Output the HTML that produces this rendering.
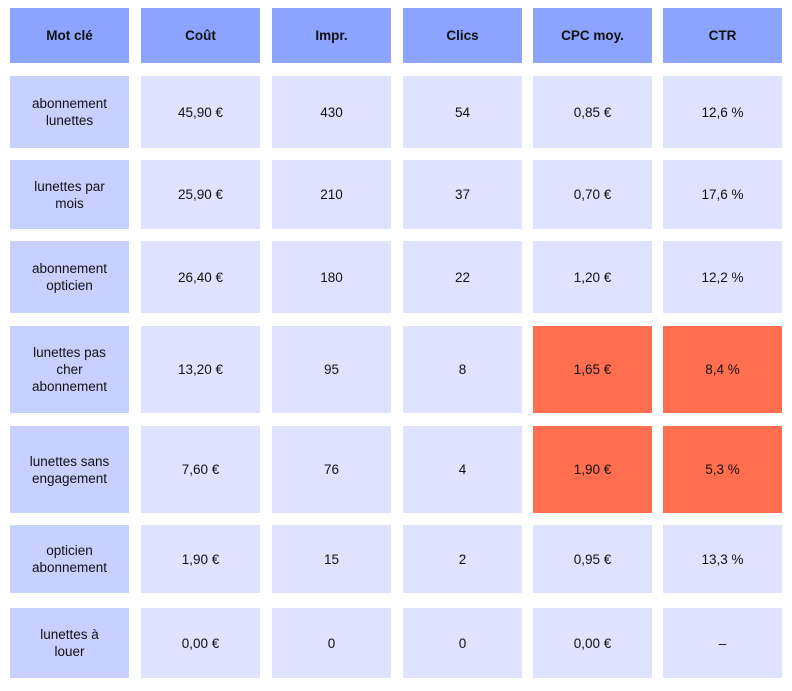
<!DOCTYPE html>
<html><head><meta charset="utf-8"><style>
body{margin:0;background:#fff;width:792px;height:691px;position:relative;font-family:"Liberation Sans",sans-serif;color:#111}
.c{position:absolute;display:flex;align-items:center;justify-content:center;text-align:center;font-size:13.5px;line-height:17px;box-sizing:border-box}
.h{background:#8ca4ff;font-weight:bold;font-size:13.5px}
.k{background:#c7d0ff}
.v{background:#dfe3ff}
.r{background:#ff6e4e}
</style></head><body>
<script>
const headers=["Mot clé","Coût","Impr.","Clics","CPC moy.","CTR"];
const keywords=["abonnement<br>lunettes","lunettes par<br>mois","abonnement<br>opticien","lunettes pas<br>cher<br>abonnement","lunettes sans<br>engagement","opticien<br>abonnement","lunettes à<br>louer"];
const costs=["45,90 €","25,90 €","26,40 €","13,20 €","7,60 €","1,90 €","0,00 €"];
const impressions=["430","210","180","95","76","15","0"];
const clicks=["54","37","22","8","4","2","0"];
const cpc=["0,85 €","0,70 €","1,20 €","1,65 €","1,90 €","0,95 €","0,00 €"];
const ctr=["12,6 %","17,6 %","12,2 %","8,4 %","5,3 %","13,3 %","–"];
const highlight=[false,false,false,true,true,false,false];
const colX=[10,141,272,403,533,663];
const colW=119;
const rowTop=[76,160,241,326,426,525,608];
const rowBot=[148,229,313,413,513,593,678];
function cell(x,y,w,h,cls,html,name){
  const d=document.createElement('div');
  d.className='c '+cls;
  d.style.left=x+'px';d.style.top=y+'px';d.style.width=w+'px';d.style.height=h+'px';
  d.innerHTML=html;
  
  
  document.body.appendChild(d);
}
headers.forEach((t,i)=>cell(colX[i],8,colW,55,'h',t,'header-'+i));
keywords.forEach((k,r)=>{
  const y=rowTop[r],h=rowBot[r]-rowTop[r];
  const vals=[costs[r],impressions[r],clicks[r],cpc[r],ctr[r]];
  cell(colX[0],y,colW,h,'k',k,'keyword-cell-'+r);
  vals.forEach((v,i)=>{
    const cls=(i>=3&&highlight[r])?'r':'v';
    cell(colX[i+1],y,colW,h,cls,v,'value-cell-'+r+'-'+i);
  });
});
</script>
</body></html>
